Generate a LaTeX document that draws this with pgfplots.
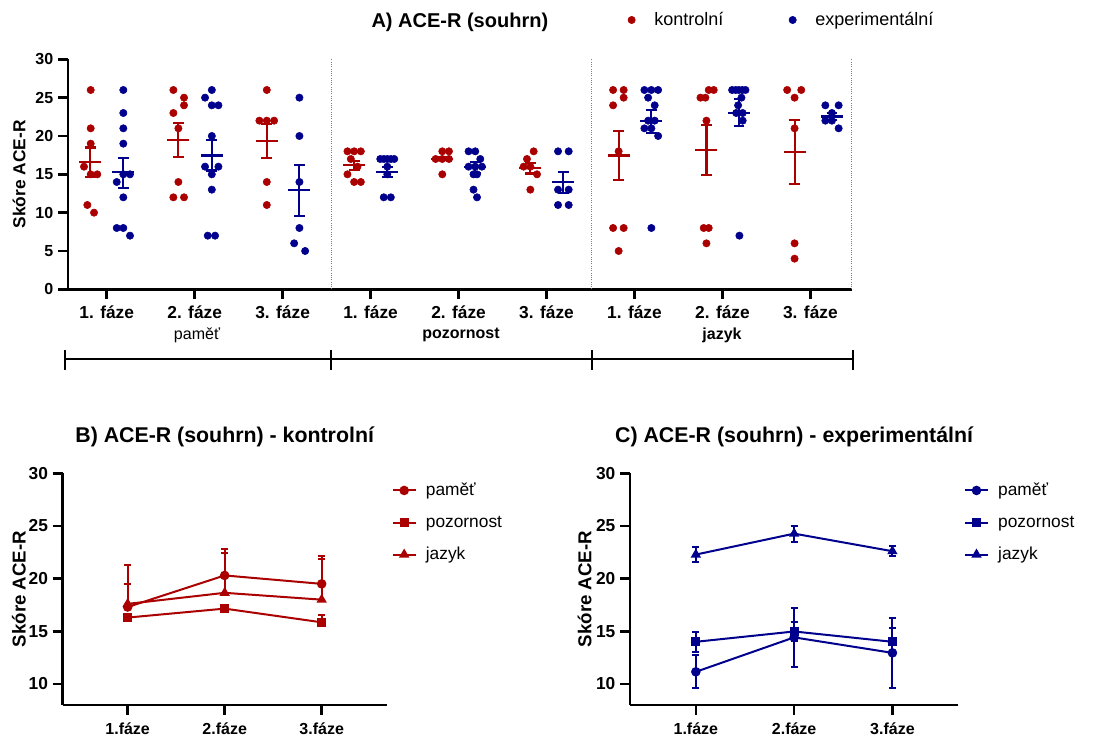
\documentclass[border=0pt]{standalone}
\usepackage{fontspec}
\setmainfont{Liberation Sans}
\usepackage{pgfplots}
\usepackage{pgfplotstable}
\pgfplotsset{compat=1.18}
\definecolor{kred}{RGB}{170,0,0}
\definecolor{kblue}{RGB}{0,0,140}

\pgfplotstableread{
x y
-0.182 26
-0.182 21
-0.182 19
-0.258 16
-0.182 15
-0.107 15
-0.220 11
-0.144 10
0.758 26
0.879 25
0.879 24
0.758 23
0.815 21
0.815 14
0.758 12
0.879 12
1.820 26
1.736 22
1.820 22
1.903 22
1.820 14
1.820 11
2.737 18
2.813 18
2.889 18
2.775 17
2.851 16
2.737 15
2.813 14
2.889 14
3.815 18
3.891 18
3.739 17
3.815 17
3.891 17
3.815 15
4.854 18
4.778 17
4.740 16
4.816 16
4.892 15
4.816 13
5.757 26
5.877 26
5.877 25
5.757 24
5.820 18
5.757 8
5.877 8
5.820 5
6.844 26
6.901 26
6.750 25
6.806 25
6.818 22
6.787 8
6.844 8
6.818 6
7.736 26
7.896 26
7.820 25
7.820 21
7.820 6
7.820 4
}\reddots

\pgfplotstableread{
x y
0.189 26
0.189 23
0.189 21
0.189 19
0.189 15
0.265 15
0.114 14
0.189 12
0.114 8
0.189 8
0.265 7
1.195 26
1.118 25
1.195 24
1.270 24
1.195 20
1.118 16
1.270 16
1.195 15
1.195 13
1.149 7
1.232 7
2.191 25
2.191 20
2.191 14
2.191 8
2.131 6
2.256 5
3.110 17
3.150 17
3.190 17
3.230 17
3.269 17
3.190 16
3.190 15
3.150 12
3.230 12
4.114 18
4.190 18
4.247 17
4.114 16
4.190 16
4.266 16
4.170 15
4.210 15
4.170 13
4.210 12
5.131 18
5.252 18
5.131 13
5.252 13
5.131 11
5.252 11
6.113 26
6.192 26
6.269 26
6.155 25
6.230 24
6.155 22
6.230 22
6.113 21
6.192 21
6.269 20
6.192 8
7.110 26
7.150 26
7.186 26
7.226 26
7.262 26
7.216 25
7.178 24
7.156 23
7.230 23
7.230 22
7.193 7
8.170 24
8.321 24
8.245 23
8.170 22
8.245 22
8.321 21
}\bluedots

\pgfplotstableread{
x y ep em
-0.185 16.6 1.9 1.9
0.815 19.5 2.2 2.2
1.82 19.4 2.2 2.3
2.815 16.2 0.5 0.6
3.815 17.05 0.2 0.2
4.816 15.8 0.7 0.7
5.82 17.45 3.2 3.2
6.818 18.2 3.25 3.3
7.82 17.95 4.1 4.25
}\redmeans

\pgfplotstableread{
x y ep em
0.19 15.25 1.9 2.05
1.195 17.45 2.0 1.95
2.191 12.9 3.3 3.3
3.19 15.25 0.7 0.6
4.19 15.9 0.7 0.7
5.19 13.95 1.35 1.35
6.19 21.9 1.45 1.55
7.19 23.05 1.75 1.75
8.245 22.55 0.5 0.5
}\bluemeans

\pgfplotsset{
  myaxis/.style={
    scale only axis, anchor=south west,
    axis x line*=bottom, axis y line*=left,
    axis line style={-, line width=1.9pt},
    tick style={line width=1.9pt, black},
    major tick length=7.5pt, tick align=outside,
    /pgf/number format/assume math mode=true,
    clip=false,
  },
  meanstyle/.style={only marks, mark=-, mark size=8.25pt,
    mark options={line width=1.6pt},
    error bars/.cd, y dir=both, y explicit,
    error bar style={line width=1.6pt},
    error mark options={rotate=90, mark size=4pt, line width=1.6pt},
    /pgfplots/.cd},
  lineerr/.style={error bars/.cd, y explicit, error bar style={line width=1.5pt},
    error mark options={rotate=90, mark size=2.6pt, line width=1.5pt}, /pgfplots/.cd},
}

\begin{document}
\begin{tikzpicture}
\path[use as bounding box] (0,0) rectangle (834.75pt,553.5pt);

% ---------------- Panel A ----------------
\begin{axis}[myaxis,
  at={(51pt,336.5pt)}, width=587.8pt, height=172.5pt,
  xmin=-0.44, xmax=8.47, ymin=0, ymax=30,
  xtick={0,1,2,3,4,5,6,7,8},
  xticklabels={1. fáze,2. fáze,3. fáze,1. fáze,2. fáze,3. fáze,1. fáze,2. fáze,3. fáze},
  ytick={0,5,10,15,20,25,30},
  xticklabel style={font=\fontsize{13}{15}\selectfont\bfseries, anchor=center, yshift=-9.5pt},
  yticklabel style={font=\fontsize{12}{14}\selectfont\bfseries},
  ylabel={Skóre ACE-R},
  every axis y label/.style={at={(axis description cs:0,0.5)}, rotate=90, anchor=center, yshift=36.75pt, font=\fontsize{13}{15}\selectfont\bfseries},
  title={A) ACE-R (souhrn)},
  title style={at={(axis description cs:0.5,1)}, anchor=center, yshift=22pt, font=\fontsize{15}{18}\selectfont\bfseries},
  legend style={at={(0.712,1.171)}, anchor=west, draw=none, fill=none, inner sep=0pt,
    legend columns=2, font=\fontsize{13.5}{16}\selectfont,
    /tikz/every even column/.append style={column sep=46pt}},
  legend image code/.code={\path[draw=none] (0pt,0pt) -- (19pt,0pt); \draw plot coordinates {(4pt,0pt)};},
]
\addplot[only marks, mark=*, mark size=2.75pt, color=kred] table[x=x,y=y] {\reddots};
\addlegendentry{kontrolní}
\addplot[only marks, mark=*, mark size=2.75pt, color=kblue] table[x=x,y=y] {\bluedots};
\addlegendentry{experimentální}
\addplot[kred, forget plot, meanstyle] table[x=x,y=y,y error plus=ep,y error minus=em] {\redmeans};
\addplot[kblue, forget plot, meanstyle] table[x=x,y=y,y error plus=ep,y error minus=em] {\bluemeans};
\draw[densely dotted, gray, line width=0.7pt] (axis cs:2.55,0) -- (axis cs:2.55,30);
\draw[densely dotted, gray, line width=0.7pt] (axis cs:5.51,0) -- (axis cs:5.51,30);
\draw[densely dotted, gray, line width=0.7pt] (axis cs:8.47,0) -- (axis cs:8.47,30);
\end{axis}

% ---------------- Panel B ----------------
\begin{axis}[myaxis,
  at={(47pt,24.75pt)}, width=243pt, height=173.8pt,
  xmin=0.33, xmax=3.67, ymin=8, ymax=30,
  xtick={1,2,3}, xticklabels={1.fáze,2.fáze,3.fáze},
  ytick={10,15,20,25,30},
  xticklabel style={font=\fontsize{12}{14}\selectfont\bfseries, anchor=center, yshift=-10pt},
  yticklabel style={font=\fontsize{13}{15}\selectfont\bfseries},
  ylabel={Skóre ACE-R},
  every axis y label/.style={at={(axis description cs:0,0.5)}, rotate=90, anchor=center, yshift=32.8pt, font=\fontsize{14}{16}\selectfont\bfseries},
  title={B) ACE-R (souhrn) - kontrolní},
  title style={at={(axis description cs:0.5,1)}, anchor=center, yshift=21.2pt, font=\fontsize{16}{19}\selectfont\bfseries},
  legend style={at={(1.015,0.97)}, anchor=north west, draw=none, fill=none, inner sep=0pt,
    row sep=9.6pt, font=\fontsize{13}{15}\selectfont},
  legend cell align=left,
]
\addplot[kred, line width=1.5pt, mark=*, mark size=2.8pt, lineerr, error bars/y dir=plus]
  coordinates {(1,17.3) +- (0,2.2) (2,20.3) +- (0,2.5) (3,19.5) +- (0,2.6)};
\addlegendentry{\hspace*{5pt}paměť}
\addplot[kred, line width=1.5pt, mark=square*, mark size=2.6pt, lineerr, error bars/y dir=plus]
  coordinates {(1,16.3) +- (0,0.3) (2,17.15) +- (0,0.35) (3,15.85) +- (0,0.65)};
\addlegendentry{\hspace*{5pt}pozornost}
\addplot[kred, line width=1.5pt, mark=triangle*, mark size=3pt, lineerr, error bars/y dir=plus]
  coordinates {(1,17.6) +- (0,3.7) (2,18.65) +- (0,3.75) (3,18.0) +- (0,3.85)};
\addlegendentry{\hspace*{5pt}jazyk}
\end{axis}

% ---------------- Panel C ----------------
\begin{axis}[myaxis,
  at={(472.5pt,24.75pt)}, width=246.2pt, height=173.8pt,
  xmin=0.33, xmax=3.67, ymin=8, ymax=30,
  xtick={1,2,3}, xticklabels={1.fáze,2.fáze,3.fáze},
  ytick={10,15,20,25,30},
  xticklabel style={font=\fontsize{12}{14}\selectfont\bfseries, anchor=center, yshift=-10pt},
  yticklabel style={font=\fontsize{13}{15}\selectfont\bfseries},
  ylabel={Skóre ACE-R},
  every axis y label/.style={at={(axis description cs:0,0.5)}, rotate=90, anchor=center, yshift=34.1pt, font=\fontsize{14}{16}\selectfont\bfseries},
  title={C) ACE-R (souhrn) - experimentální},
  title style={at={(axis description cs:0.5,1)}, anchor=center, yshift=21.2pt, font=\fontsize{16}{19}\selectfont\bfseries},
  legend style={at={(1.017,0.97)}, anchor=north west, draw=none, fill=none, inner sep=0pt,
    row sep=9.6pt, font=\fontsize{13}{15}\selectfont},
  legend cell align=left,
]
\addplot[kblue, line width=1.5pt, mark=*, mark size=2.8pt, lineerr, error bars/y dir=both]
  coordinates {(1,11.15) +- (0,1.57) (2,14.42) +- (0,2.8) (3,12.95) +- (0,3.3)};
\addlegendentry{\hspace*{5pt}paměť}
\addplot[kblue, line width=1.5pt, mark=square*, mark size=2.6pt, lineerr, error bars/y dir=both]
  coordinates {(1,14.0) +- (0,0.95) (2,14.98) +- (0,0.9) (3,14.0) +- (0,1.27)};
\addlegendentry{\hspace*{5pt}pozornost}
\addplot[kblue, line width=1.5pt, mark=triangle*, mark size=3pt, lineerr, error bars/y dir=both]
  coordinates {(1,22.28) +- (0,0.75) (2,24.27) +- (0,0.75) (3,22.6) +- (0,0.45)};
\addlegendentry{\hspace*{5pt}jazyk}
\end{axis}

% ---------------- group bracket for panel A ----------------
\begin{scope}[x=0.75pt, y=0.75pt]
\draw[line width=1.6pt] (65,378.7) -- (853,378.7);
\foreach \xx in {65,331,591.7,853} {\draw[line width=1.6pt] (\xx,368) -- (\xx,388);}
\node[font=\fontsize{12}{14}\selectfont] at (197,403) {paměť};
\node[font=\fontsize{12}{14}\selectfont\bfseries] at (461,403) {pozornost};
\node[font=\fontsize{12}{14}\selectfont\bfseries] at (722,403) {jazyk};
\end{scope}
\end{tikzpicture}
\end{document}
